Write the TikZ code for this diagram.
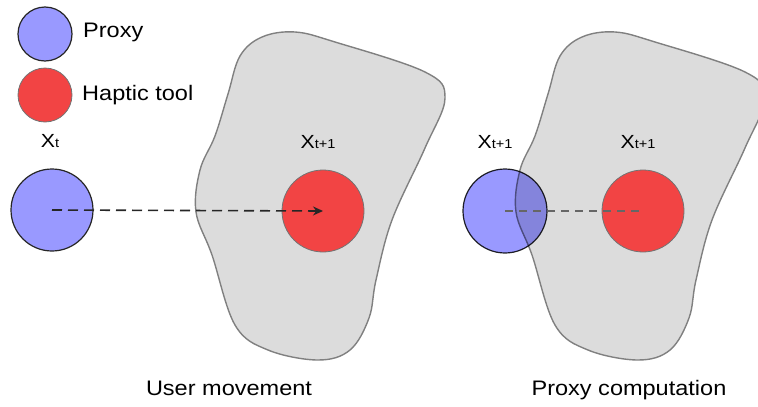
\documentclass[tikz,border=0pt]{standalone}
\usepackage{fontspec}
\setmainfont{Liberation Sans}[FakeStretch=1.12]
\usepackage{xcolor}
\usetikzlibrary{arrows.meta, positioning}

\definecolor{proxyblue}{HTML}{9999FF}
\definecolor{toolred}{HTML}{F24444}
\definecolor{regiongray}{HTML}{DCDCDC}

% subscripted position label
\newcommand{\posx}[1]{X{\fontsize{13}{13}\selectfont #1}}

\begin{document}
\begin{tikzpicture}[
  x=1pt, y=-1pt,
  txt/.style={font=\fontsize{21}{24}\selectfont, inner sep=0pt},
  poslabel/.style={font=\fontsize{19}{22}\selectfont, inner sep=0pt, anchor=base},
  proxy/.style={circle, draw=black!85, line width=1.2pt, fill=proxyblue, minimum size=#1, inner sep=0pt},
  tool/.style={circle, draw=black!55, line width=0.8pt, fill=toolred, minimum size=#1, inner sep=0pt},
  region/.style={draw=black!50, line width=1.4pt, fill=regiongray},
  arrow/.style={-{Stealth[length=10pt, width=9pt]}, dashed, dash pattern=on 10pt off 6pt, line width=1.6pt, black!85},
  link/.style={dashed, dash pattern=on 8pt off 6pt, line width=1.1pt, black!60}
]
\clip[use as bounding box] (0,0) rectangle (758,407);

% free-form region, drawn twice
\def\regionpath{plot[smooth cycle, tension=0.6] coordinates {
  (295,32) (335,42) (425,72) (445,98) (425,148) (392,220) (376,280)
  (369,318) (350,350) (318,360) (268,350) (235,325) (212,255) (196,212) (200,170)
  (215,136) (228,94) (240,56) (262,37)}}
\path[region] \regionpath;
\begin{scope}[xshift=320]
  \path[region] \regionpath;
\end{scope}

% legend
\node[proxy=54pt] (legproxy) at (45,34) {};
\node[tool=54pt] (legtool) at (45,95) {};
\node[txt, anchor=base west] (legproxytxt) at (83,37) {Proxy};
\node[txt, anchor=base west] (legtooltxt) at (82,100) {Haptic tool};

% user movement
\node[proxy=82pt] (proxy1) at (52,210) {};
\node[tool=82pt] (tool1) at (323,211) {};
\node[poslabel] (lblproxy1) at (50,147) {\posx{t}};
\node[poslabel] (lbltool1) at (318,148) {\posx{t+1}};
\draw[arrow] (proxy1.center) -- (tool1.center);

% proxy computation
\node[tool=82pt] (tool2) at (643,211) {};
\begin{scope}[blend mode=multiply]
  \node[proxy=84pt] (proxy2) at (505,211) {};
\end{scope}
\node[poslabel] (lblproxy2) at (495,148) {\posx{t+1}};
\node[poslabel] (lbltool2) at (638,148) {\posx{t+1}};
\draw[link] (proxy2.center) -- (tool2.center);

% captions
\node[txt, anchor=base] (capmove) at (229,395) {User movement};
\node[txt, anchor=base] (capproxy) at (629,395) {Proxy computation};
\end{tikzpicture}
\end{document}
